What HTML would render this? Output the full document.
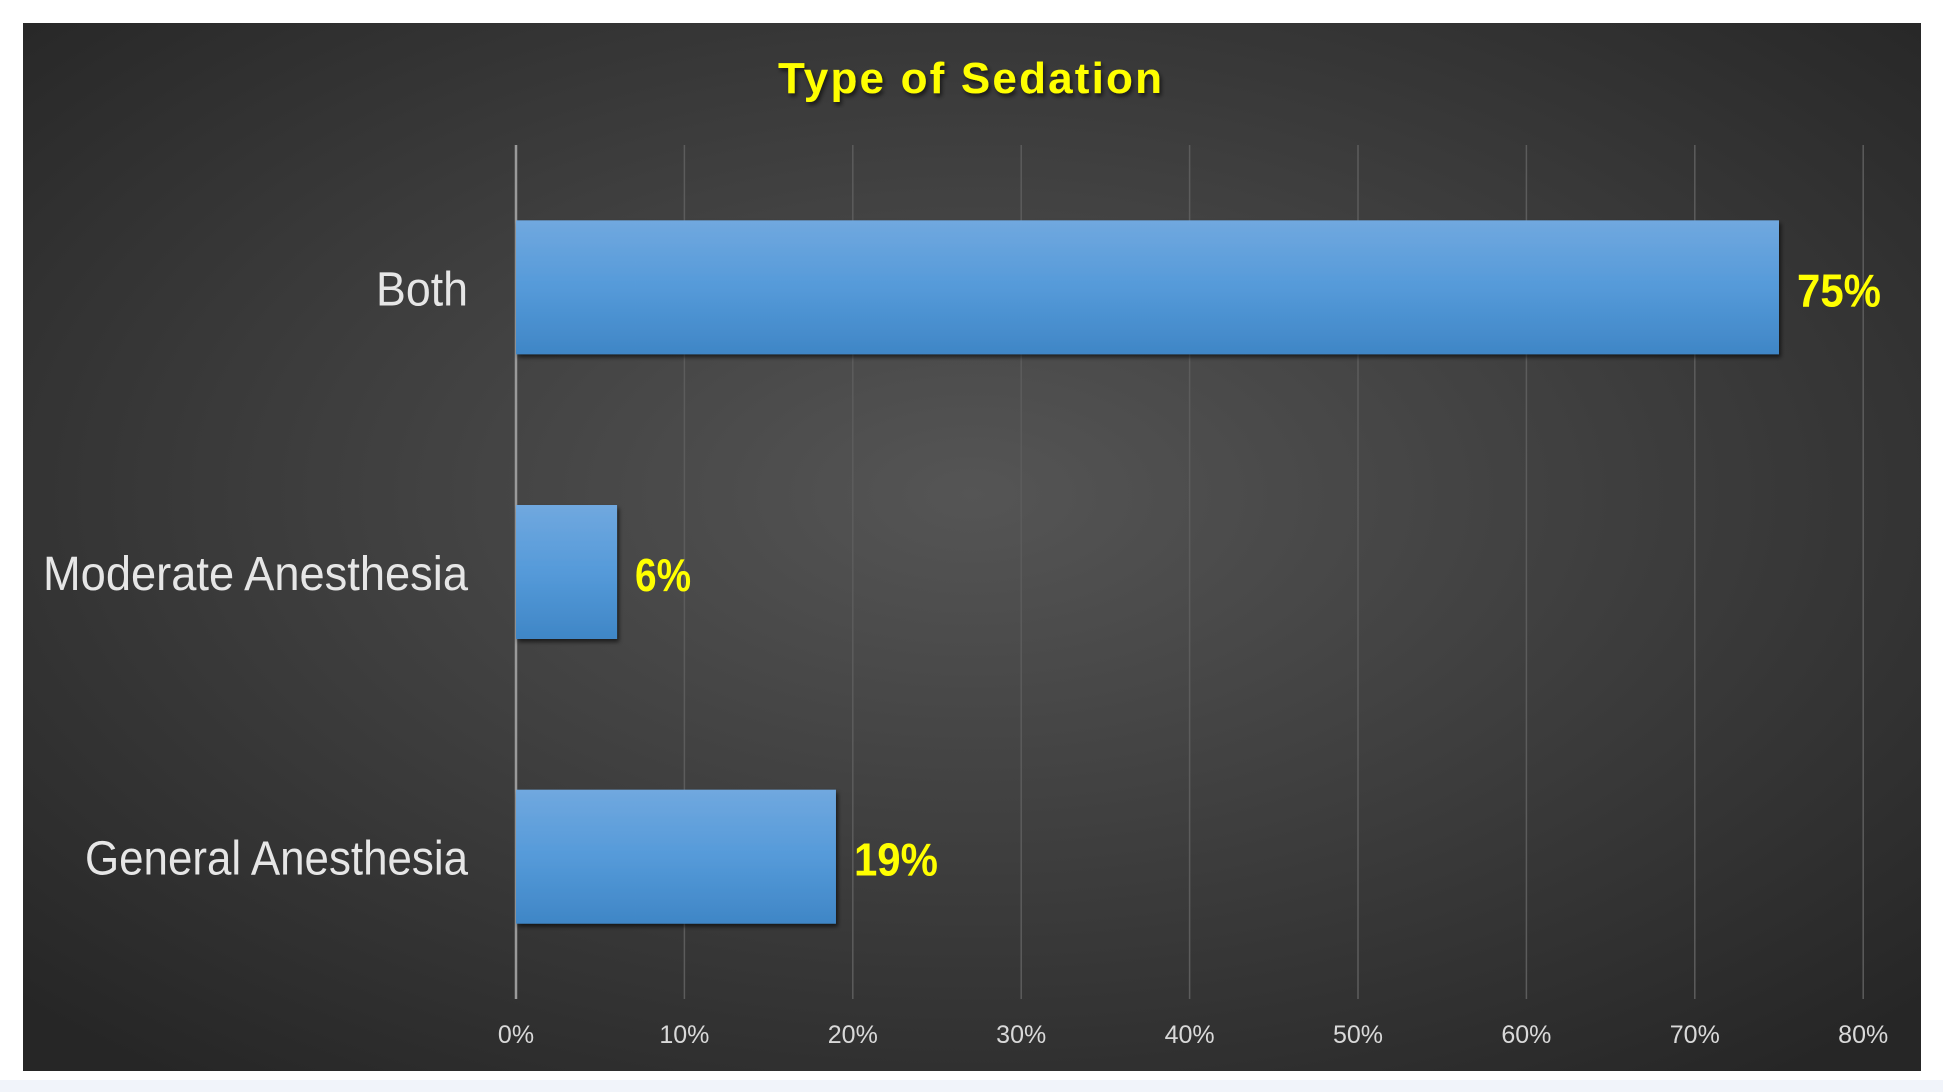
<!DOCTYPE html>
<html><head><meta charset="utf-8"><style>
html,body{margin:0;padding:0;background:#fff;width:1943px;height:1092px;overflow:hidden}
svg{display:block}
text{font-family:"Liberation Sans",sans-serif}
</style></head><body>
<svg width="1943" height="1092">
<defs>
<radialGradient id="bg" cx="0.5" cy="0.45" r="0.7">
<stop offset="0" stop-color="#555555"/><stop offset="1" stop-color="#262626"/>
</radialGradient>
<linearGradient id="bar" x1="0" y1="0" x2="0" y2="1">
<stop offset="0" stop-color="#70a8df"/><stop offset="0.5" stop-color="#559ad9"/><stop offset="1" stop-color="#3f86c6"/>
</linearGradient>
<filter id="sh"><feDropShadow dx="2" dy="3" stdDeviation="2" flood-color="#000" flood-opacity="0.6"/></filter>
</defs>
<rect x="0" y="1080" width="1943" height="12" fill="#f1f4fa"/>
<rect x="23" y="23" width="1898" height="1048" fill="url(#bg)"/>
<text x="970" y="93" text-anchor="middle" font-size="44" font-weight="bold" fill="#ffff00" textLength="384" filter="url(#sh)">Type of Sedation</text>
<g id="grid"></g><g id="bars"></g><g id="labels"></g>
</svg>
<script>
const categories = ["Both", "Moderate Anesthesia", "General Anesthesia"];
const values = [75, 6, 19];
const valueLabels = ["75%", "6%", "19%"];
const ticks = [0, 10, 20, 30, 40, 50, 60, 70, 80];
const tickLabels = ["0%", "10%", "20%", "30%", "40%", "50%", "60%", "70%", "80%"];
const catWidths = [92, 425, 383];

const NS = "http://www.w3.org/2000/svg";
const x0 = 516, pxPer = 16.84, plotTop = 145, plotBottom = 999;
const bandH = (plotBottom - plotTop) / categories.length;
function xs(v){ return x0 + v * pxPer; }
function yc(i){ return plotTop + bandH * (i + 0.5); }
function mk(tag, attrs, parent){ const e = document.createElementNS(NS, tag); for (const k in attrs) e.setAttribute(k, attrs[k]); parent.appendChild(e); return e; }
const grid = document.getElementById('grid'), bars = document.getElementById('bars'), labels = document.getElementById('labels');
ticks.forEach((t, i) => {
  const l = mk('line', {x1: xs(t), x2: xs(t), y1: plotTop, y2: plotBottom, stroke: t === 0 ? '#9a9a9a' : '#5c5c5c', 'stroke-width': t === 0 ? 2.5 : 1.5}, grid);
  
  
  const tx = mk('text', {x: xs(t), y: 1043, 'text-anchor': 'middle', 'font-size': 25, fill: '#d9d9d9'}, labels);
  tx.textContent = tickLabels[i];
  
  
});
categories.forEach((c, i) => {
  const h = 134, y = yc(i) - h / 2;
  const r = mk('rect', {x: x0, y: y, width: xs(values[i]) - x0, height: h, fill: 'url(#bar)', filter: 'url(#sh)'}, bars);
  
  
  const cl = mk('text', {x: 468, y: yc(i) + 18, 'text-anchor': 'end', 'font-size': 48, fill: '#e6e6e6', textLength: catWidths[i], lengthAdjust: 'spacingAndGlyphs'}, labels);
  cl.textContent = c;
  
  
  const vl = mk('text', {x: xs(values[i]) + 18, y: yc(i) + 19, 'font-size': 46, 'font-weight': 'bold', fill: '#ffff00', textLength: valueLabels[i].length * 28, lengthAdjust: 'spacingAndGlyphs'}, labels);
  vl.textContent = valueLabels[i];
  
  
});
</script>
</body></html>
